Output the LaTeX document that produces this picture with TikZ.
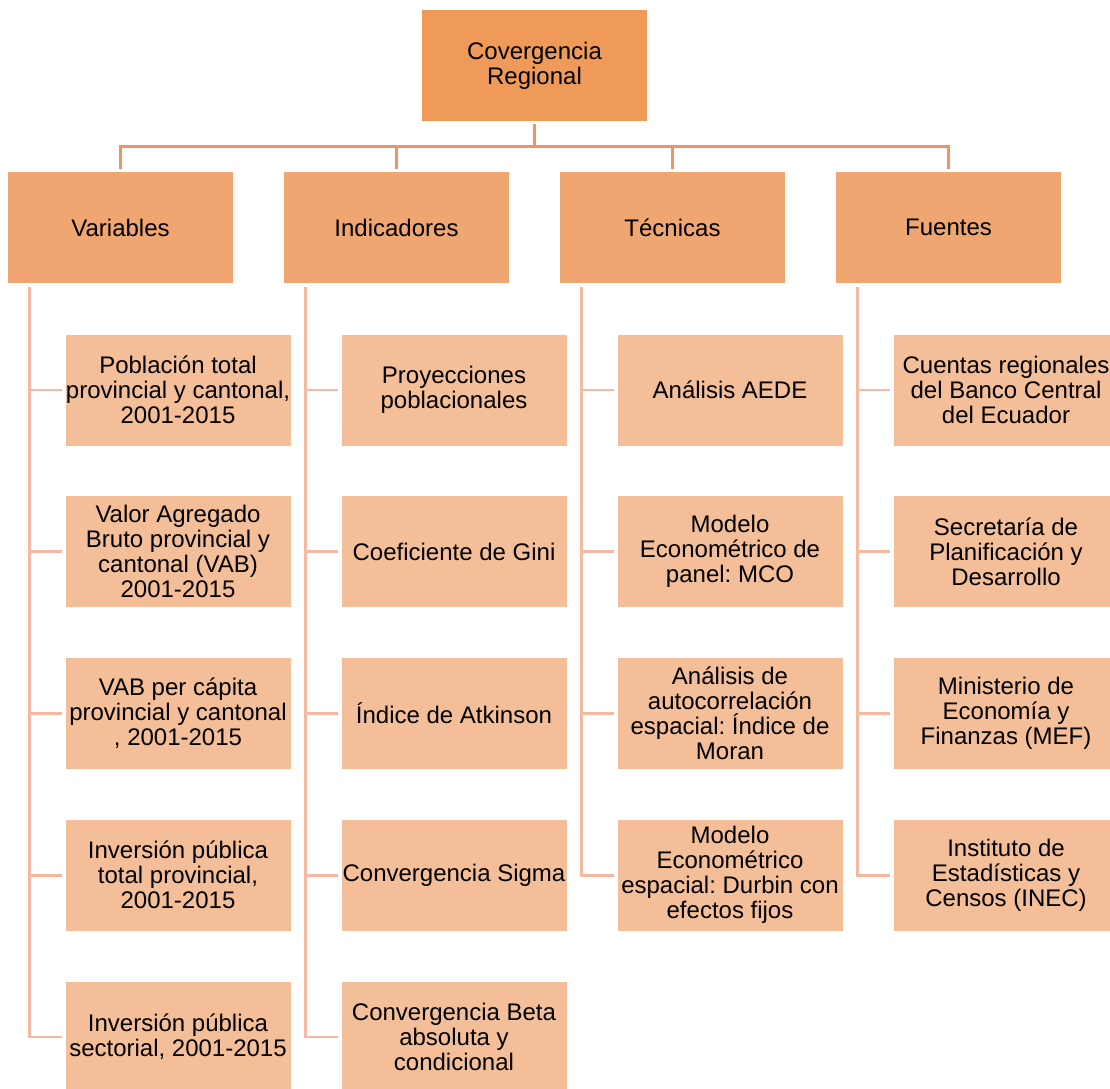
\documentclass[tikz,border=0pt]{standalone}
\usepackage{fontspec}
\setmainfont{Liberation Sans}
\usetikzlibrary{calc}
\frenchspacing
\definecolor{rootorange}{HTML}{F09A5A}
\definecolor{catorange}{HTML}{F0A670}
\definecolor{itempeach}{HTML}{F4BE98}
\definecolor{rootline}{HTML}{EF9565}
\definecolor{itemline}{HTML}{F4B9A0}
\tikzset{
  rootbox/.style={fill=rootorange, minimum width=225pt, minimum height=111pt, inner sep=0pt, align=center, font=\fontsize{24}{25}\selectfont},
  catbox/.style={rootbox, fill=catorange},
  itembox/.style={rootbox, fill=itempeach},
  rootlink/.style={draw=rootline, line width=2.8pt},
  itemlink/.style={draw=itemline, line width=2.8pt}
}
\begin{document}
\begin{tikzpicture}[x=1pt, y=-1pt]
  \useasboundingbox (0,0) rectangle (1110,1088);
  \node[rootbox] (root) at (534.5,65.5) {Covergencia\\Regional};
  \foreach \name/\x/\label in {var/120.5/Variables, ind/396.5/Indicadores, tec/672.5/Técnicas, fue/948.5/Fuentes} {
    \node[catbox] (\name) at (\x,227.5) {\label};
    \draw[rootlink] ($(root.south)+(0,3)$) -- ++(0,22) -| ($(\name.north)+(0,-3)$);
  }
  % Variables
  \foreach \k/\txt in {1/{Población total\\provincial y cantonal,\\2001-2015},
                       2/{Valor Agregado\\Bruto provincial y\\cantonal (VAB)\\2001-2015},
                       3/{VAB per cápita\\provincial y cantonal\\, 2001-2015},
                       4/{Inversión pública\\total provincial,\\2001-2015},
                       5/{Inversión pública\\sectorial, 2001-2015}} {
    \node[itembox] (var-\k) at ($(var.center)+(57.5,0.75+161.75*\k)$) {\txt};
    \draw[itemlink] ($(var.south west)+(22,4)$) |- ($(var-\k.west)+(-3,0)$);
  }
  % Indicadores
  \foreach \k/\txt in {1/{Proyecciones\\poblacionales},
                       2/{Coeficiente de Gini},
                       3/{Índice de Atkinson},
                       4/{Convergencia Sigma},
                       5/{Convergencia Beta\\absoluta y\\condicional}} {
    \node[itembox] (ind-\k) at ($(ind.center)+(57.5,0.75+161.75*\k)$) {\txt};
    \draw[itemlink] ($(ind.south west)+(22,4)$) |- ($(ind-\k.west)+(-3,0)$);
  }
  % Tecnicas
  \foreach \k/\txt in {1/{Análisis AEDE},
                       2/{Modelo\\Econométrico de\\panel: MCO},
                       3/{Análisis de\\autocorrelación\\espacial: Índice de\\Moran},
                       4/{Modelo\\Econométrico\\espacial: Durbin con\\efectos fijos}} {
    \node[itembox] (tec-\k) at ($(tec.center)+(57.5,0.75+161.75*\k)$) {\txt};
    \draw[itemlink] ($(tec.south west)+(22,4)$) |- ($(tec-\k.west)+(-3,0)$);
  }
  % Fuentes
  \foreach \k/\txt in {1/{Cuentas regionales\\del Banco Central\\del Ecuador},
                       2/{Secretaría de\\Planificación y\\Desarrollo},
                       3/{Ministerio de\\Economía y\\Finanzas (MEF)},
                       4/{Instituto de\\Estadísticas y\\Censos (INEC)}} {
    \node[itembox] (fue-\k) at ($(fue.center)+(57.5,0.75+161.75*\k)$) {\txt};
    \draw[itemlink] ($(fue.south west)+(22,4)$) |- ($(fue-\k.west)+(-3,0)$);
  }
\end{tikzpicture}
\end{document}
